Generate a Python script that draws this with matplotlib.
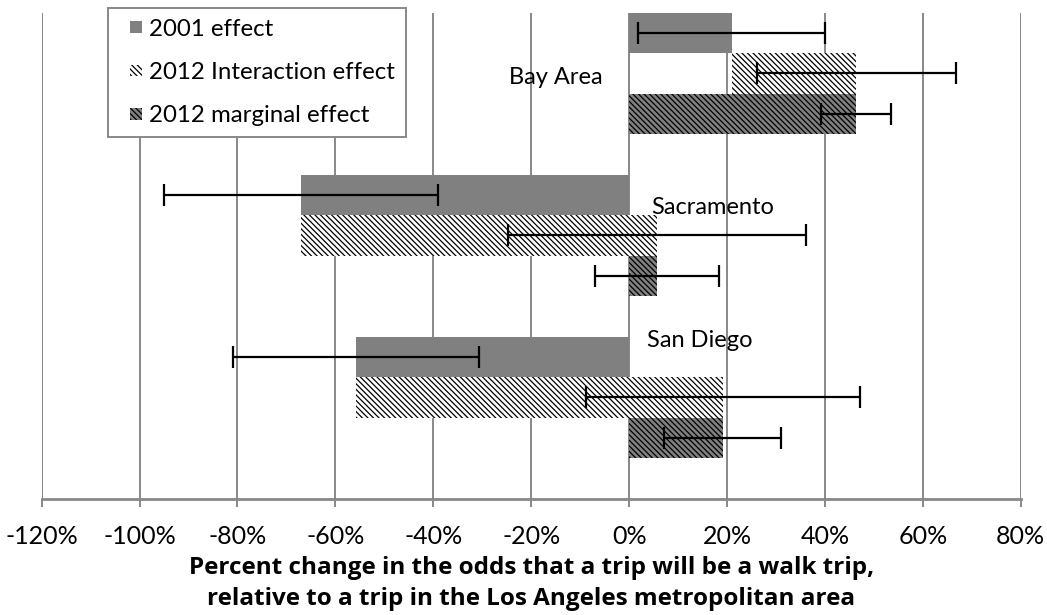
import numpy as np
import matplotlib.pyplot as plt
from matplotlib.patches import Patch, Rectangle
from matplotlib.legend_handler import HandlerPatch

plt.rcParams['font.family'] = ['Lato', 'DejaVu Sans']
plt.rcParams['hatch.linewidth'] = 0.9

# Data (percent change in odds of a walk trip vs. Los Angeles)
regions = ['Bay Area', 'Sacramento', 'San Diego']
effect_2001 = [21.0, -67.0, -55.8]
interaction_2012 = [25.4, 72.7, 74.9]     # bar starts at the 2001 effect
marginal_2012 = [46.4, 5.7, 19.1]
err_2001 = [19.1, 28.0, 25.2]
err_interaction = [20.3, 30.5, 28.0]
err_marginal = [7.1, 12.6, 11.9]

# label placement (x in %, y in bar slots)
label_x = [-24.5, 4.5, 3.6]
label_y = [1.1, 4.3, 7.6]

gray = '#808080'
grid_gray = '#888888'
hatch = '\\' * 6

fig = plt.figure(figsize=(10.47, 6.15), dpi=100)
ax = fig.add_axes([0.0398, 0.1891, 0.9351, 0.7902])

# each region gets 4 slots; the fourth stays empty
base = np.arange(len(regions)) * 4
y_2001 = base
y_inter = base + 1
y_marg = base + 2

ax.barh(y_2001, effect_2001, height=1.0, color=gray, linewidth=0, zorder=2)
ax.barh(y_inter, interaction_2012, left=effect_2001, height=1.0, color='white',
        edgecolor='black', linewidth=0, hatch=hatch, zorder=2)
ax.barh(y_marg, marginal_2012, height=1.0, color=gray,
        edgecolor='black', linewidth=0, hatch=hatch, zorder=2)

eb = dict(fmt='none', ecolor='black', elinewidth=1.6, capsize=8, capthick=1.6, zorder=3)
ax.errorbar(effect_2001, y_2001, xerr=err_2001, **eb)
inter_end = np.array(effect_2001) + np.array(interaction_2012)
ax.errorbar(inter_end, y_inter, xerr=err_interaction, **eb)
ax.errorbar(marginal_2012, y_marg, xerr=err_marginal, **eb)

for name, lx, ly in zip(regions, label_x, label_y):
    ax.text(lx, ly, name, fontsize=17, va='center', ha='left', zorder=4)

ax.set_xlim(-120, 80)
ax.set_ylim(11.5, -0.5)
ax.set_xticks(np.arange(-120, 81, 20))
ax.set_xticklabels([f'{v}%' for v in range(-120, 81, 20)], fontsize=18)
ax.set_yticks([])
ax.xaxis.grid(True, color=grid_gray, linewidth=1.4, zorder=0)
ax.set_axisbelow(True)
for s in ['top', 'right', 'left']:
    ax.spines[s].set_visible(False)
ax.spines['bottom'].set_color(grid_gray)
ax.spines['bottom'].set_linewidth(2)
ax.tick_params(axis='x', length=6, width=1.4, color=grid_gray, pad=13)

ax.set_xlabel('Percent change in the odds that a trip will be a walk trip,\n'
              'relative to a trip in the Los Angeles metropolitan area',
              fontsize=17.5, fontweight='bold', family=['Open Sans', 'DejaVu Sans'],
              labelpad=6, linespacing=1.36)


# small square legend keys sitting at the right end of the handle box
def square_key(legend, orig_handle, xdescent, ydescent, width, height, fontsize):
    s = 8.6
    return Rectangle((-xdescent + width - s, -ydescent + (height - s) / 2), s, s)


handles = [Patch(facecolor=gray, linewidth=0),
           Patch(facecolor='white', edgecolor='black', linewidth=0, hatch=hatch),
           Patch(facecolor=gray, edgecolor='black', linewidth=0, hatch=hatch)]
leg = fig.legend(handles, ['2001 effect', '2012 Interaction effect', '2012 marginal effect'],
                 loc='upper left', bbox_to_anchor=(108 / 1047, 1 - 8 / 615),
                 fontsize=17.3, frameon=True, fancybox=False, framealpha=1,
                 handlelength=0.95, handleheight=0.7, handletextpad=0.3,
                 labelspacing=0.92, borderpad=0.45, borderaxespad=0,
                 handler_map={Patch: HandlerPatch(patch_func=square_key)})
leg.get_frame().set_edgecolor(grid_gray)
leg.get_frame().set_linewidth(1.4)

fig.savefig('out.png', dpi=100)
